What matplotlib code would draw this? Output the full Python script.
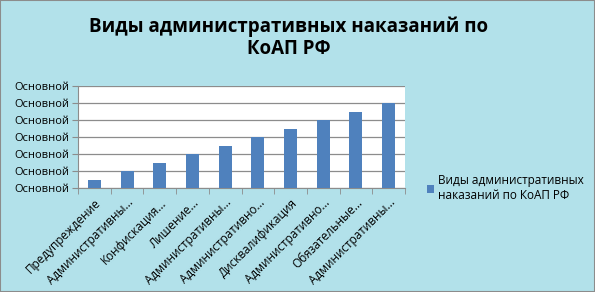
import numpy as np
import matplotlib.pyplot as plt
from matplotlib.patches import Rectangle

plt.rcParams['font.family'] = ['Open Sans', 'Noto Sans', 'DejaVu Sans']

categories = ['Предупреждение', 'Административны...', 'Конфискация...', 'Лишение...',
              'Административны...', 'Административно...', 'Дисквалификация',
              'Административно...', 'Обязательные...', 'Административны...']
values = [0.5, 1, 1.5, 2, 2.5, 3, 3.5, 4, 4.5, 5]
y_ticks = [0, 1, 2, 3, 4, 5, 6]
y_labels = ['Основной'] * 7
series_name = 'Виды административных\nнаказаний по КоАП РФ'
title = 'Виды административных наказаний по\nКоАП РФ'

fig = plt.figure(figsize=(5.95, 2.92), dpi=100, facecolor='#b2e1ea')
fig.patches.append(Rectangle((0, 0), 1, 1, transform=fig.transFigure,
                             fill=False, edgecolor='#8c8c8c', lw=1.5))

ax = fig.add_axes([78 / 595, 1 - 188 / 292, 327 / 595, 102 / 292])
x = np.arange(len(values))
bars = ax.bar(x, values, width=0.4, color='#4f81bd', label=series_name, zorder=3)

ax.set_xlim(-0.5, len(values) - 0.5)
ax.set_ylim(0, 6)
ax.set_yticks(y_ticks)
ax.set_yticklabels(y_labels, fontsize=8)
ax.yaxis.grid(True, color='#8c8c8c', lw=0.9, zorder=0)
ax.set_xticks(x)
ax.set_xticklabels(categories, rotation=45, ha='right', rotation_mode='anchor', fontsize=8.5)
ax.set_xticks(np.arange(-0.5, len(values), 1), minor=True)
ax.tick_params(axis='x', which='major', length=0, pad=6)
ax.tick_params(axis='x', which='minor', length=4, color='#8c8c8c')
ax.tick_params(axis='y', length=4, color='#8c8c8c', pad=2)
for s in ['top', 'right']:
    ax.spines[s].set_visible(False)
ax.spines['left'].set_color('#8c8c8c')
ax.spines['bottom'].set_color('#8c8c8c')
ax.set_facecolor('white')

fig.text(0.485, 0.943, title, ha='center', va='top', fontsize=13.5, fontweight='bold',
         linespacing=1.15)

fig.legend(handles=[bars], loc='center left', bbox_to_anchor=(0.71, 0.355),
           frameon=False, fontsize=8.5, handlelength=0.6, handleheight=0.6,
           handletextpad=0.3, borderaxespad=0)

fig.savefig('out.png', dpi=100, facecolor=fig.get_facecolor())
